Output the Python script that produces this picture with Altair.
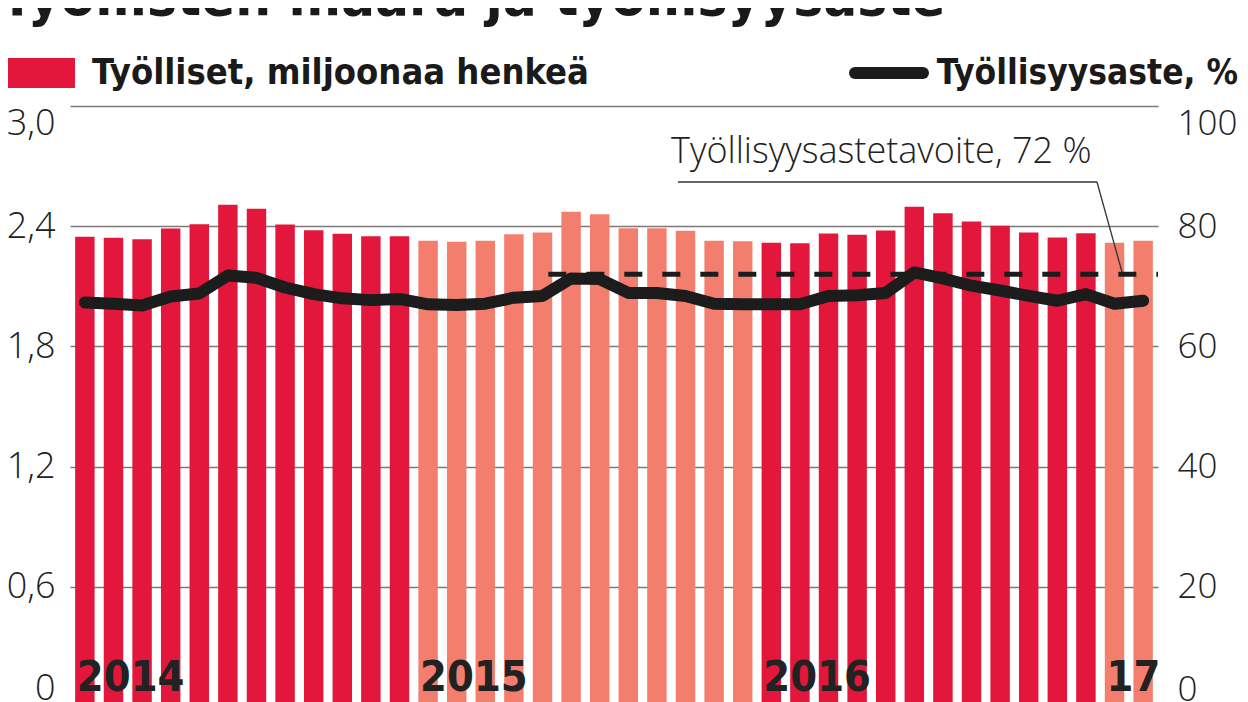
import altair as alt
import pandas as pd

# ---- data ----
months = [f"{y}-{m:02d}" for y in (2014, 2015, 2016) for m in range(1, 13)] + ["2017-01", "2017-02"]
employed = [2.347, 2.342, 2.335, 2.388, 2.410, 2.507, 2.487, 2.408, 2.380, 2.362, 2.350, 2.350,
            2.327, 2.323, 2.327, 2.360, 2.368, 2.472, 2.460, 2.390, 2.390, 2.377, 2.327, 2.325,
            2.318, 2.315, 2.363, 2.357, 2.378, 2.497, 2.465, 2.423, 2.402, 2.368, 2.343, 2.365,
            2.318, 2.327]
rate = [67.3, 67.1, 66.8, 68.3, 68.8, 71.8, 71.4, 69.8, 68.7, 68.0, 67.7, 67.9,
        67.0, 66.9, 67.1, 68.1, 68.4, 71.3, 71.2, 68.9, 68.9, 68.4, 67.1, 67.0,
        67.0, 67.0, 68.4, 68.5, 68.9, 72.3, 71.3, 70.1, 69.3, 68.4, 67.6, 68.7,
        67.1, 67.6]
year_labels = ["2014", "2015", "2016", "17"]
year_starts = ["2014-01", "2015-01", "2016-01", "2017-01"]
target = 72
target_start = "2015-05"

DARK = "#E2173B"
LIGHT = "#F47E6D"
INK = "#1c1c1c"
BOLD_FONT = "DejaVu Sans Condensed"
LIGHT_FONT = "Open Sans"

W, H = 1088, 596
YRANGE = [601, 0]

shade = ["dark" if m[:4] in ("2014", "2016") else "light" for m in months]
df = pd.DataFrame({"month": months, "employed": employed, "rate": rate, "shade": shade})

xscale = alt.Scale(paddingInner=0.32, paddingOuter=0.18)
xenc = alt.X("month:N", sort=months, scale=xscale, axis=None)

bars = alt.Chart(df).mark_bar().encode(
    x=xenc,
    y=alt.Y("employed:Q",
            scale=alt.Scale(domain=[0, 3.0], range=YRANGE, nice=False, zero=True),
            axis=alt.Axis(values=[0, 0.6, 1.2, 1.8, 2.4, 3.0], orient="left", title=None,
                          grid=True, gridColor="#7a7a7a", gridWidth=1.5,
                          domain=False, ticks=False, labelFlush=True,
                          labelExpr="datum.value == 0 ? '0' : replace(format(datum.value, '.1f'), '.', ',')",
                          labelFont=LIGHT_FONT, labelFontWeight=300, labelFontSize=36,
                          labelColor="#222", labelPadding=15)),
    color=alt.Color("shade:N", scale=alt.Scale(domain=["dark", "light"], range=[DARK, LIGHT]),
                    legend=None),
)

line = alt.Chart(df).mark_line(color=INK, strokeWidth=12, strokeCap="round",
                               strokeJoin="round").encode(
    x=xenc,
    y=alt.Y("rate:Q",
            scale=alt.Scale(domain=[0, 100], range=YRANGE, nice=False),
            axis=alt.Axis(values=[0, 20, 40, 60, 80, 100], orient="right", title=None,
                          grid=False, domain=False, ticks=False, labelFlush=True,
                          labelFont=LIGHT_FONT, labelFontWeight=300, labelFontSize=35,
                          labelColor="#222", labelPadding=19)),
)

tdf = pd.DataFrame({"month": [target_start], "v": [target]})
rule = alt.Chart(tdf).mark_rule(color=INK, strokeWidth=5, strokeDash=[18, 20]).encode(
    x=alt.X("month:N", sort=months, scale=xscale, axis=None, bandPosition=0.8),
    x2=alt.value(W),
    y=alt.Y("v:Q", scale=alt.Scale(domain=[0, 100], range=YRANGE, nice=False), axis=None),
)

ydf = pd.DataFrame({"month": year_starts, "label": year_labels})
years = alt.Chart(ydf).mark_text(font=BOLD_FONT, fontWeight="bold", fontSize=43, color="#222",
                                 align="left", baseline="alphabetic", dx=-8).encode(
    x=alt.X("month:N", sort=months, scale=xscale, axis=None),
    y=alt.value(585),
    text="label:N",
)

# annotation for the target line
ann_text = alt.Chart(pd.DataFrame({"t": ["Työllisyysastetavoite, 72 %"]})).mark_text(
    font=LIGHT_FONT, fontWeight=300, fontSize=36, color="#222", align="left",
    baseline="alphabetic").encode(x=alt.value(601), y=alt.value(57), text="t:N")
lead1 = alt.Chart(pd.DataFrame({"a": [0]})).mark_rule(color="#333", strokeWidth=1.3).encode(
    x=alt.value(608), x2=alt.value(1027), y=alt.value(76))
lead2 = alt.Chart(pd.DataFrame({"a": [0]})).mark_rule(color="#333", strokeWidth=1.3).encode(
    x=alt.value(1027), x2=alt.value(1052), y=alt.value(76), y2=alt.value(166))

# title (cut off at top) and legend
title = alt.Chart(pd.DataFrame({"t": ["Työllisten määrä ja työllisyysaste"]})).mark_text(
    font=BOLD_FONT, fontWeight="bold", fontSize=56, color="#1a1a1a", align="left",
    baseline="alphabetic").encode(x=alt.value(-70), y=alt.value(-91), text="t:N")
leg_rect = alt.Chart(pd.DataFrame({"a": [0]})).mark_rect(color=DARK).encode(
    x=alt.value(-70), x2=alt.value(5), y=alt.value(-48), y2=alt.value(-18))
leg_t1 = alt.Chart(pd.DataFrame({"t": ["Työlliset, miljoonaa henkeä"]})).mark_text(
    font=BOLD_FONT, fontWeight="bold", fontSize=36, color="#1a1a1a", align="left",
    baseline="middle").encode(x=alt.value(22), y=alt.value(-33), text="t:N")
leg_line = alt.Chart(pd.DataFrame({"a": [0]})).mark_rule(
    color=INK, strokeWidth=12, strokeCap="round").encode(
    x=alt.value(785), x2=alt.value(853), y=alt.value(-33))
leg_t2 = alt.Chart(pd.DataFrame({"t": ["Työllisyysaste, %"]})).mark_text(
    font=BOLD_FONT, fontWeight="bold", fontSize=35, color="#1a1a1a", align="right",
    baseline="middle").encode(x=alt.value(1168), y=alt.value(-33), text="t:N")

chart = alt.layer(
    bars, line, rule, years, ann_text, lead1, lead2, title, leg_rect, leg_t1, leg_line, leg_t2
).resolve_scale(y="independent").properties(
    width=W, height=H,
    autosize=alt.AutoSizeParams(type="none"),
    padding={"left": 62, "top": 98, "right": 82, "bottom": 0},
).configure_view(stroke=None)

chart.save("out.html", embed_options={"renderer": "svg", "actions": False})
